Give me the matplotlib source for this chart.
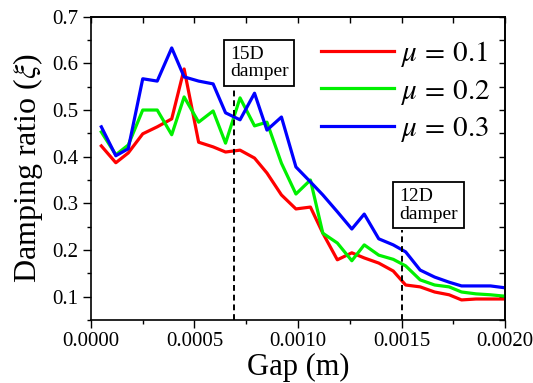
import numpy as np
import matplotlib
matplotlib.use("Agg")
import matplotlib.pyplot as plt
from matplotlib.ticker import MultipleLocator

plt.rcParams['font.family'] = ['Liberation Serif', 'DejaVu Serif']
plt.rcParams['mathtext.fontset'] = 'stix'

# Data
gap = [0.00005, 0.00012, 0.00018, 0.00025, 0.00032, 0.00039, 0.00045, 0.00052,
       0.00059, 0.00065, 0.00072, 0.00079, 0.00085, 0.00092, 0.00099, 0.00106,
       0.00112, 0.00119, 0.00126, 0.00132, 0.00139, 0.00146, 0.00152, 0.00159,
       0.00166, 0.00173, 0.00179, 0.00186, 0.00193, 0.00200]
xi_mu01 = [0.423, 0.387, 0.408, 0.449, 0.464, 0.481, 0.588, 0.431, 0.421, 0.410,
           0.414, 0.397, 0.365, 0.318, 0.288, 0.292, 0.236, 0.179, 0.194, 0.183,
           0.172, 0.155, 0.125, 0.121, 0.110, 0.104, 0.093, 0.095, 0.095, 0.095]
xi_mu02 = [0.453, 0.404, 0.425, 0.500, 0.500, 0.447, 0.528, 0.474, 0.498, 0.429,
           0.526, 0.466, 0.474, 0.386, 0.320, 0.350, 0.236, 0.215, 0.177, 0.211,
           0.189, 0.180, 0.166, 0.136, 0.125, 0.121, 0.110, 0.106, 0.104, 0.101]
xi_mu03 = [0.464, 0.402, 0.417, 0.567, 0.562, 0.633, 0.571, 0.562, 0.556, 0.494,
           0.479, 0.536, 0.457, 0.485, 0.378, 0.346, 0.318, 0.282, 0.245, 0.277,
           0.224, 0.211, 0.196, 0.157, 0.142, 0.131, 0.123, 0.123, 0.123, 0.119]
series_labels = [r'$\mu\,=\,0.1$', r'$\mu\,=\,0.2$', r'$\mu\,=\,0.3$']
series_colors = ['#ff0000', '#00f000', '#0000ff']

damper_gap = [0.00069, 0.0015]
damper_text = ['15D\ndamper', '12D\ndamper']

fig = plt.figure(figsize=(5.33, 3.83), dpi=100)
ax = fig.add_axes([0.1707, 0.1645, 0.7768, 0.7919])

for ys, lab, col in zip([xi_mu01, xi_mu02, xi_mu03], series_labels, series_colors):
    ax.plot(gap, ys, color=col, linewidth=2.3, label=lab)

# damper markers: dashed line up to a boxed label
box_bottom = [0.547, 0.243]
box_center = [(0.000812, 0.601), (0.00163, 0.296)]
for xg, yb, (cx, cy), txt in zip(damper_gap, box_bottom, box_center, damper_text):
    ax.plot([xg, xg], [0.05, yb], color='black', linestyle='--', linewidth=1.4,
            dashes=(3, 2))
    ax.text(cx, cy, txt, ha='center', va='center', multialignment='left',
            fontsize=14, linespacing=1.05,
            bbox=dict(boxstyle='square,pad=0.3', facecolor='white',
                      edgecolor='black', linewidth=1.3))

ax.set_xlim(0, 0.002)
ax.set_ylim(0.05, 0.7)
ax.xaxis.set_major_locator(MultipleLocator(0.0005))
ax.xaxis.set_minor_locator(MultipleLocator(0.00025))
ax.yaxis.set_major_locator(MultipleLocator(0.1))
ax.yaxis.set_minor_locator(MultipleLocator(0.05))
ax.xaxis.set_major_formatter(plt.FuncFormatter(lambda v, p: f'{v:.4f}'))
ax.yaxis.set_major_formatter(plt.FuncFormatter(lambda v, p: f'{v:.1f}'))
ax.tick_params(which='both', direction='out', labelsize=15, width=1.0)
ax.tick_params(which='major', length=5.5)
ax.tick_params(which='minor', length=3)

top = ax.secondary_xaxis('top')
top.xaxis.set_major_locator(MultipleLocator(0.00025))
top.tick_params(direction='in', length=4, labeltop=False, width=1.0)
right = ax.secondary_yaxis('right')
right.yaxis.set_major_locator(MultipleLocator(0.05))
right.tick_params(direction='in', length=4, labelright=False, width=1.0)

for s in ax.spines.values():
    s.set_linewidth(1.2)
top.spines['top'].set_linewidth(1.2)
right.spines['right'].set_linewidth(1.2)

ax.set_xlabel('Gap (m)', fontsize=22, labelpad=1)
ax.set_ylabel(r'Damping ratio ($\xi$)', fontsize=23, labelpad=5)

ax.legend(loc='upper left', bbox_to_anchor=(0.52, 0.975), frameon=False,
          fontsize=21, handlelength=2.5, handletextpad=0.25, labelspacing=0.3,
          borderaxespad=0.1)

fig.savefig('out.png', dpi=100)
